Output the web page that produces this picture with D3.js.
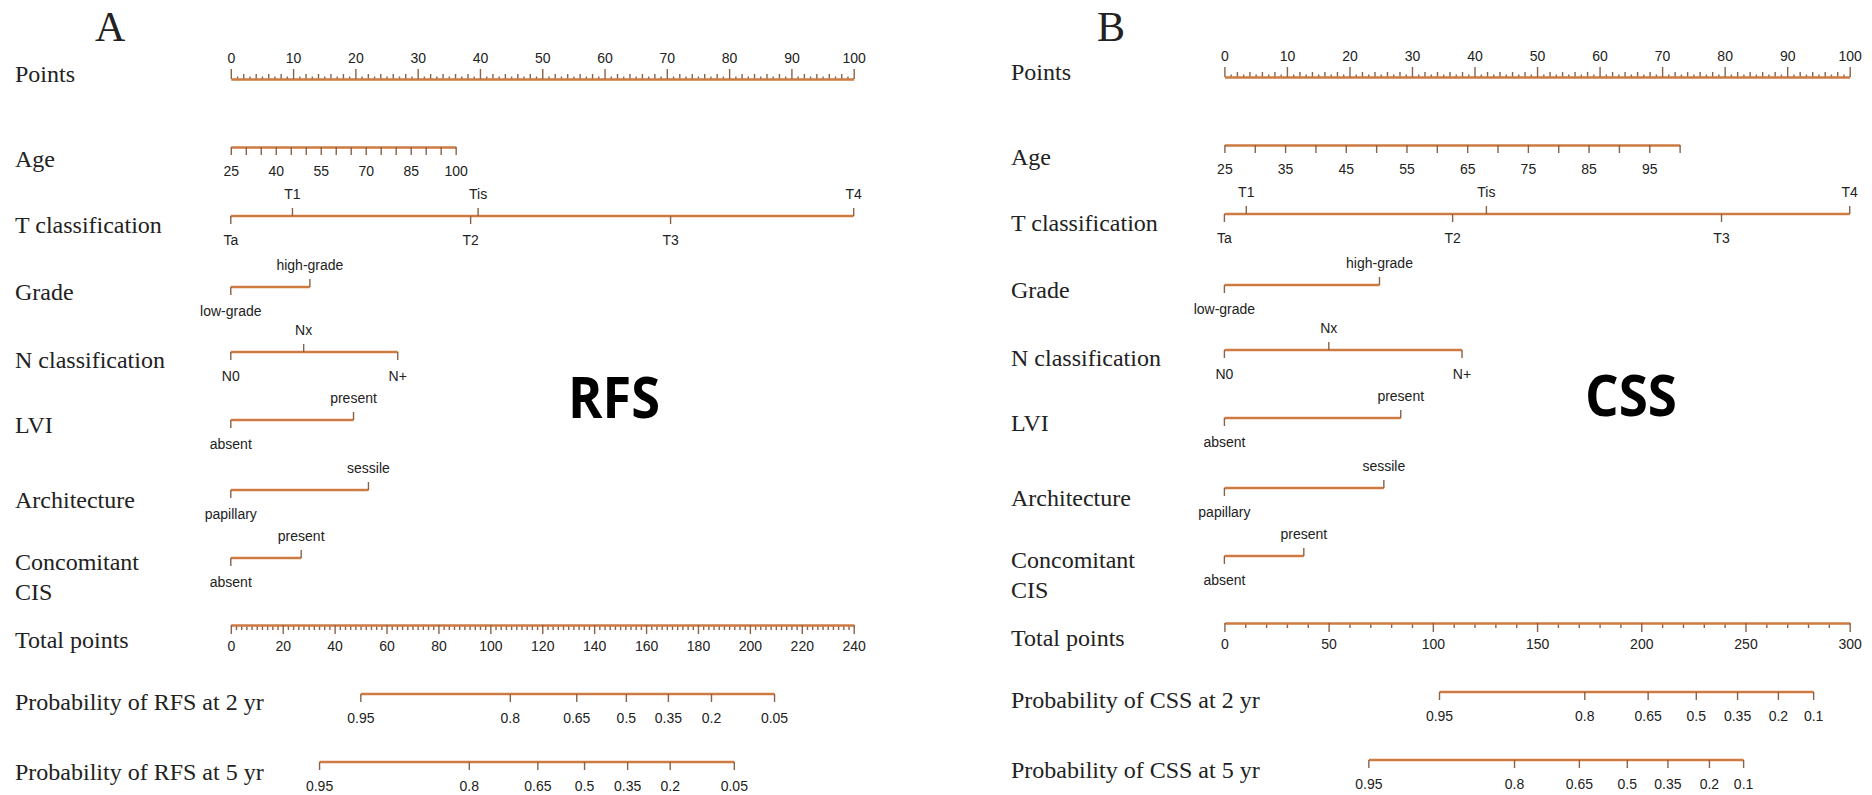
<!DOCTYPE html>
<html lang="en">
<head>
<meta charset="UTF-8">
<title>Nomograms RFS / CSS</title>
<script src="https://cdn.jsdelivr.net/npm/d3@7"></script>
<style>
*{margin:0;padding:0;box-sizing:border-box}
body{background:#fff;width:1872px;height:795px;overflow:hidden}
svg{display:block}
.lab{font-family:"Liberation Serif","Times New Roman",serif;font-size:24px;fill:#222}
.tk{font-family:"Liberation Sans",Arial,sans-serif;font-size:14px;fill:#222}
.tick text{font-family:"Liberation Sans",Arial,sans-serif;font-size:14px;fill:#222}
</style>
</head>
<body>
<svg id="chart" width="1872" height="795"></svg>
<script>
// values (points / total points positions)
const pointLabels = [0,10,20,30,40,50,60,70,80,90,100];

const ageDomain = [25,100];
const ageLabelsA = [25,40,55,70,85,100];
const agePtsA = [0,36.1];
const ageLabelsB = [25,35,45,55,65,75,85,95];
const agePtsB = [0,72.8];

const tLevels = ["Ta","T1","Tis","T2","T3","T4"];
const tSide = ["below","above","above","below","below","above"];
const tPtsA = [0,9.9,39.7,38.5,70.6,100];
const tPtsB = [0,3.5,41.9,36.5,79.5,100];

const gradeLevels = ["low-grade","high-grade"];
const gradePtsA = [0,12.7];
const gradePtsB = [0,24.8];

const nLevels = ["N0","Nx","N+"];
const nSide = ["below","above","below"];
const nPtsA = [0,11.7,26.8];
const nPtsB = [0,16.7,38.0];

const lviLevels = ["absent","present"];
const lviPtsA = [0,19.7];
const lviPtsB = [0,28.2];

const archLevels = ["papillary","sessile"];
const archPtsA = [0,22.1];
const archPtsB = [0,25.5];

const cisLevels = ["absent","present"];
const cisPtsA = [0,11.3];
const cisPtsB = [0,12.7];

const totalLabelsA = [0,20,40,60,80,100,120,140,160,180,200,220,240];
const totalLabelsB = [0,50,100,150,200,250,300];

const probLevelsA = [0.95,0.8,0.65,0.5,0.35,0.2,0.05];
const prob2TotalA = [50.1,107.7,133.3,152.4,168.6,185.2,209.5];
const prob5TotalA = [34.2,91.9,118.3,136.3,152.9,169.3,194.0];
const probLevelsB = [0.95,0.8,0.65,0.5,0.35,0.2,0.1];
const prob2TotalB = [103.2,172.9,203.3,226.4,246.2,265.8,282.7];
const prob5TotalB = [69.3,139.2,170.3,193.3,212.8,232.7,249.1];

const LINE = "#cd7b42", TICK = "#8a6248";
const svg = d3.select("#chart");

function styleAxis(g, domain) {
  g.select(".domain").attr("stroke", domain ? LINE : "none").attr("stroke-width", 2.6);
  g.selectAll(".tick line").attr("stroke", TICK).attr("stroke-width", 1.4);
}

function panel(o) {
  const g = svg.append("g");
  const pts = d3.scaleLinear([0,100],[o.x0,o.x1]);
  const tot = d3.scaleLinear([0,o.totalMax],[o.x0,o.x1]);
  const Y = k => o.rows[k] + o.dy;

  g.append("text").attr("class","lab").attr("x",o.letterX).attr("y",41).style("font-size","42px").text(o.letter);

  const rowLab = (txt, k, off) => g.append("text").attr("class","lab").attr("x",o.lx).attr("y",Y(k)+off).text(txt);
  rowLab("Points","points",3);
  rowLab("Age","age",20);
  rowLab("T classification","t",17);
  rowLab("Grade","grade",13);
  rowLab("N classification","n",16);
  rowLab("LVI","lvi",13);
  rowLab("Architecture","arch",18);
  rowLab("Concomitant","cis",12);
  rowLab("CIS","cis",42);
  rowLab("Total points","total",23);
  rowLab("Probability of " + o.end + " at 2 yr","p2",16);
  rowLab("Probability of " + o.end + " at 5 yr","p5",18);

  // Points axis: minor ticks every point, tall every 10
  const pMinor = g.append("g").attr("transform",`translate(0,${Y("points")})`)
    .call(d3.axisTop(pts).tickValues(d3.range(0,101,1).filter(v => v % 10)).tickSize(4).tickFormat("").tickSizeOuter(0));
  styleAxis(pMinor,false);
  pMinor.selectAll(".tick line").attr("y2", d => d % 2 ? -2.5 : -5);
  const pMajor = g.append("g").attr("transform",`translate(0,${Y("points")})`)
    .call(d3.axisTop(pts).tickValues(pointLabels).tickSize(10).tickPadding(6).tickSizeOuter(0));
  styleAxis(pMajor,true);

  // Age
  const age = d3.scaleLinear(ageDomain, o.agePts.map(pts));
  const ga = g.append("g").attr("transform",`translate(0,${Y("age")})`)
    .call(d3.axisBottom(age).tickValues(d3.range(25,101,5)).tickSize(8).tickPadding(11).tickSizeOuter(0)
      .tickFormat(d => o.ageLabels.includes(d) ? d : ""));
  styleAxis(ga,true);

  // categorical rows
  function cat(k, levels, vals, side) {
    const y = Y(k);
    const xs = vals.map(pts);
    g.append("line").attr("x1",d3.min(xs)).attr("x2",d3.max(xs)).attr("y1",y).attr("y2",y)
      .attr("stroke",LINE).attr("stroke-width",2.6);
    levels.forEach((l,i) => {
      const s = side ? side[i] : (i === 0 ? "below" : "above");
      const up = s === "above";
      g.append("line").attr("x1",xs[i]).attr("x2",xs[i]).attr("y1",y).attr("y2",up ? y-8 : y+8)
        .attr("stroke",TICK).attr("stroke-width",1.4);
      g.append("text").attr("class","tk").attr("x",xs[i]).attr("y",up ? y-17 : y+29)
        .attr("text-anchor","middle").text(l);
    });
  }
  cat("t", tLevels, o.tPts, tSide);
  cat("grade", gradeLevels, o.gradePts);
  cat("n", nLevels, o.nPts, nSide);
  cat("lvi", lviLevels, o.lviPts);
  cat("arch", archLevels, o.archPts);
  cat("cis", cisLevels, o.cisPts);

  // Total points
  const tMinor = g.append("g").attr("transform",`translate(0,${Y("total")})`)
    .call(d3.axisBottom(tot).tickValues(d3.range(0,o.totalMax+1,o.totalMinor).filter(v => !o.totalLabels.includes(v)))
      .tickSize(5).tickFormat("").tickSizeOuter(0));
  styleAxis(tMinor,false);
  const tMajor = g.append("g").attr("transform",`translate(0,${Y("total")})`)
    .call(d3.axisBottom(tot).tickValues(o.totalLabels).tickSize(9).tickPadding(7).tickSizeOuter(0));
  styleAxis(tMajor,true);

  // probability axes, positioned on the total points scale
  function prob(k, levels, totals) {
    const y = Y(k);
    const xs = totals.map(tot);
    g.append("line").attr("x1",d3.min(xs)).attr("x2",d3.max(xs)).attr("y1",y).attr("y2",y)
      .attr("stroke",LINE).attr("stroke-width",2.6);
    levels.forEach((p,i) => {
      g.append("line").attr("x1",xs[i]).attr("x2",xs[i]).attr("y1",y).attr("y2",y+8)
        .attr("stroke",TICK).attr("stroke-width",1.4);
      g.append("text").attr("class","tk").attr("x",xs[i]).attr("y",y+29).attr("text-anchor","middle").text(String(p));
    });
  }
  prob("p2", o.probLevels, o.prob2);
  prob("p5", o.probLevels, o.prob5);

  g.append("text").attr("x",o.bigX).attr("y",418+o.dy).attr("text-anchor","middle")
    .attr("font-family","'Open Sans','Liberation Sans',sans-serif").attr("font-weight",700)
    .attr("font-size","58px").attr("fill","#000")
    .attr("textLength",92).attr("lengthAdjust","spacingAndGlyphs").text(o.end);
}

const rows = {points:79, age:147, t:216, grade:287, n:352, lvi:420, arch:490, cis:558, total:625, p2:694, p5:762};

panel({letter:"A", letterX:95, lx:15, x0:230.8, x1:853.7, dy:0, rows, end:"RFS", bigX:614,
  agePts:agePtsA, ageLabels:ageLabelsA, tPts:tPtsA, gradePts:gradePtsA, nPts:nPtsA, lviPts:lviPtsA,
  archPts:archPtsA, cisPts:cisPtsA, totalMax:240, totalMinor:2, totalLabels:totalLabelsA,
  probLevels:probLevelsA, prob2:prob2TotalA, prob5:prob5TotalA});

panel({letter:"B", letterX:1097, lx:1011, x0:1224.4, x1:1849.7, dy:-2, rows, end:"CSS", bigX:1631,
  agePts:agePtsB, ageLabels:ageLabelsB, tPts:tPtsB, gradePts:gradePtsB, nPts:nPtsB, lviPts:lviPtsB,
  archPts:archPtsB, cisPts:cisPtsB, totalMax:300, totalMinor:10, totalLabels:totalLabelsB,
  probLevels:probLevelsB, prob2:prob2TotalB, prob5:prob5TotalB});
</script>
</body>
</html>
